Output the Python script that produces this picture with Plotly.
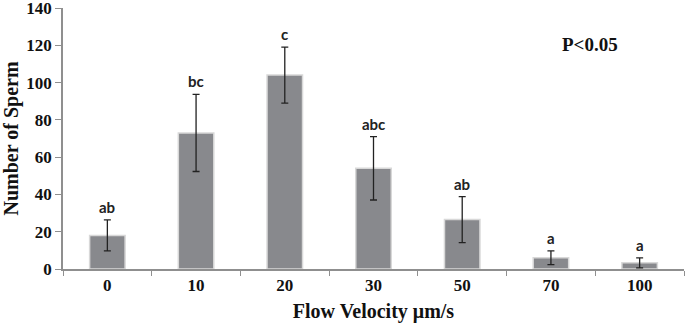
import plotly.graph_objects as go

categories = ["0", "10", "20", "30", "50", "70", "100"]
means = [18, 73, 104, 54, 26.5, 6, 3.3]
errors = [8.3, 20.7, 15, 17, 12.3, 3.7, 2.7]
letters = ["ab", "bc", "c", "abc", "ab", "a", "a"]
y_ticks = [0, 20, 40, 60, 80, 100, 120, 140]

serif = "Liberation Serif"
fig = go.Figure()
fig.add_trace(go.Bar(
    x=categories, y=means,
    marker=dict(color="#88898d", line=dict(color="#d8d8d8", width=1.5)),
    error_y=dict(type="data", array=errors, visible=True, color="#222222",
                 thickness=1.3, width=3.5),
    width=0.4,
))

for i, (m, e, t) in enumerate(zip(means, errors, letters)):
    fig.add_annotation(x=i, y=m + e, text=t, showarrow=False, yanchor="bottom",
                       yshift=2, font=dict(family="Lato", size=15, color="#222222", weight="bold"))

fig.add_annotation(xref="paper", yref="paper", x=0.849, y=0.86, text="P<0.05",
                   showarrow=False, xanchor="center", yanchor="middle",
                   font=dict(family=serif, size=19, color="#111111", weight="bold"))

fig.update_layout(
    width=685, height=323,
    margin=dict(l=63, r=1, t=8, b=54),
    paper_bgcolor="white", plot_bgcolor="white",
    showlegend=False,
    xaxis=dict(type="category", showline=True, linecolor="#8f8f8f", linewidth=1.5,
               ticks="outside", tickson="boundaries", ticklen=5, tickcolor="#8f8f8f",
               automargin=False,
               tickfont=dict(family=serif, size=17, color="#111111", weight="bold"),
               title=dict(text="Flow Velocity μm/s", standoff=12,
                          font=dict(family=serif, size=20, color="#111111", weight="bold")),
               range=[-0.5, 6.5]),
    yaxis=dict(range=[0, 140], tickvals=y_ticks, showline=True, linecolor="#8f8f8f",
               linewidth=1.5, ticks="outside", ticklen=6, tickcolor="#8f8f8f",
               showgrid=False, zeroline=False, automargin=False,
               ticklabeloverflow="allow",
               tickfont=dict(family=serif, size=17, color="#111111", weight="bold"),
               title=dict(text="Number of Sperm", standoff=4,
                          font=dict(family=serif, size=20, color="#111111", weight="bold"))),
)

fig.write_html("out.html", config={"displayModeBar": False},
               post_script="document.body.style.margin='0';")
